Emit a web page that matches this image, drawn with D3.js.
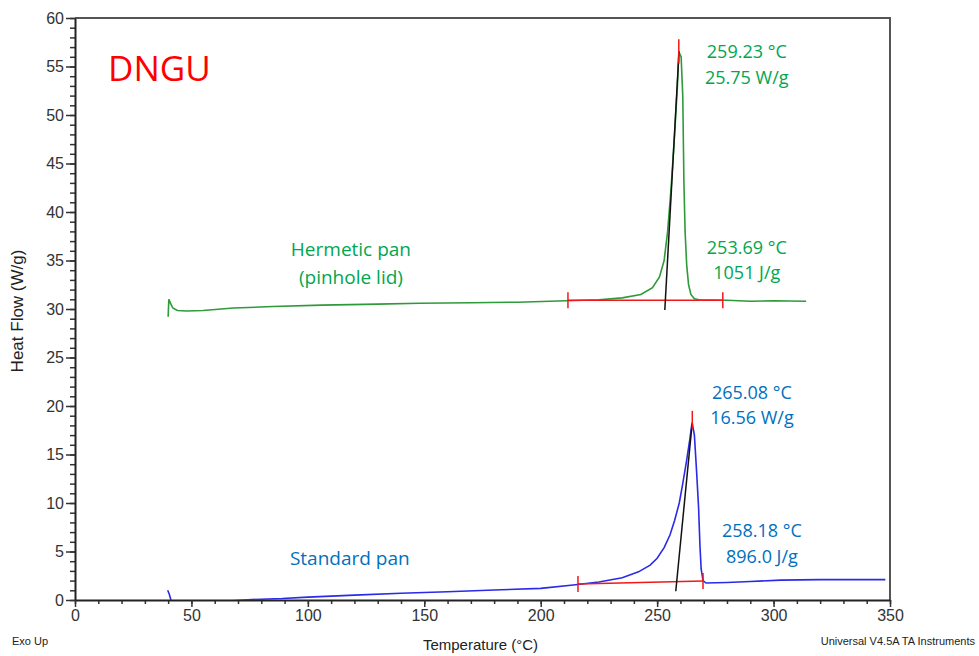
<!DOCTYPE html>
<html>
<head>
<meta charset="utf-8">
<script src="https://cdn.jsdelivr.net/npm/d3@7"></script>
<style>
  body { margin: 0; background: #fff; }
  svg { display: block; }
  .tick text { font-family: "Liberation Sans", Arial, sans-serif; font-size: 16px; fill: #333; }
</style>
</head>
<body>
<div id="chart"></div>
<script>
// canvas size
const width = 979;
const height = 656;
const margin = { top: 18, right: 89, bottom: 56, left: 75 };

// Hermetic pan (pinhole lid) - temperature (°C) and heat flow (W/g)
const hermeticTemp = [40, 40.3, 41, 42, 44, 48, 55, 68, 85, 106, 130, 148, 170, 190, 211, 225, 235, 243, 248, 251, 253, 254.5, 256, 257.5, 258.7, 259.3, 260.3, 261, 261.5, 262, 262.7, 263.5, 264.5, 266, 268, 280, 290, 300, 314];
const hermeticFlow = [29.2, 31.0, 30.6, 30.1, 29.85, 29.8, 29.85, 30.1, 30.25, 30.4, 30.5, 30.6, 30.65, 30.7, 30.85, 30.95, 31.15, 31.5, 32.2, 33.3, 35.0, 38.0, 42.5, 48.0, 53.0, 56.5, 56.0, 52.0, 43.0, 38.0, 34.5, 32.5, 31.5, 31.05, 30.95, 30.9, 30.8, 30.85, 30.8];

// Standard pan - temperature (°C) and heat flow (W/g)
const standardTemp = [39.8, 40.5, 41.2, 42, 60, 76, 89, 100, 120, 140, 160, 183, 200, 214, 225, 235, 242, 247, 250, 253, 255.5, 257.5, 259.5, 261, 262.6, 264, 265, 266, 267, 267.8, 268.4, 268.9, 269.7, 271, 280, 290, 303, 320, 348];
const standardFlow = [1.0, 0.6, 0.0, -0.3, -0.2, 0.05, 0.15, 0.3, 0.5, 0.7, 0.85, 1.05, 1.2, 1.55, 1.85, 2.3, 2.9, 3.6, 4.3, 5.4, 6.7, 8.2, 10.0, 12.0, 14.3, 16.5, 18.3, 17.0, 13.0, 9.5, 5.5, 3.2, 2.0, 1.75, 1.8, 1.9, 2.05, 2.1, 2.1];

// analysis marks: integration baselines, onset tangents, peak markers
const baselines = [
  { x1: 211.7, y1: 30.9, x2: 278.2, y2: 30.9 },
  { x1: 216, y1: 1.65, x2: 269.7, y2: 1.95 }
];
const tangents = [
  { x1: 253.3, y1: 29.9, x2: 259.4, y2: 56.6 },
  { x1: 258, y1: 0.9, x2: 265, y2: 18.1 }
];
const peaks = [
  { x: 259.3, y1: 55.3, y2: 57.8 },
  { x: 265.1, y1: 17.6, y2: 19.5 }
];

// text annotations
const hermeticLabels = ["259.23 °C", "25.75 W/g", "253.69 °C", "1051 J/g"];
const hermeticLabelY = [56.5, 53.85, 36.35, 33.7];
const standardLabels = ["265.08 °C", "16.56 W/g", "258.18 °C", "896.0 J/g"];
const standardLabelY = [21.4, 18.75, 7.15, 4.5];

const xTicks = [0, 50, 100, 150, 200, 250, 300, 350];
const yTicks = [0, 5, 10, 15, 20, 25, 30, 35, 40, 45, 50, 55, 60];

const svg = d3.select("#chart")
    .append("svg")
    .attr("width", width)
    .attr("height", height);

const x = d3.scaleLinear().domain([0, 350]).range([margin.left, width - margin.right]);
const y = d3.scaleLinear().domain([0, 60]).range([height - margin.bottom, margin.top]);

// frame (top and right)
svg.append("path")
    .attr("d", `M${x(0)},${y(60)}H${x(350)}V${y(0)}`)
    .attr("fill", "none")
    .attr("stroke", "#555")
    .attr("stroke-width", 2);

// minor ticks
svg.append("g")
    .attr("transform", `translate(0,${y(0)})`)
    .call(d3.axisBottom(x).ticks(28).tickSize(4).tickFormat(""))
    .call(g => g.select(".domain").remove())
    .selectAll("line").attr("stroke", "#333").attr("stroke-width", 1.5);
svg.append("g")
    .attr("transform", `translate(${x(0)},0)`)
    .call(d3.axisLeft(y).ticks(60).tickSize(5).tickFormat(""))
    .call(g => g.select(".domain").remove())
    .selectAll("line").attr("stroke", "#333").attr("stroke-width", 1.5);

// major axes
const xAxis = svg.append("g")
    .attr("transform", `translate(0,${y(0)})`)
    .call(d3.axisBottom(x).tickValues(xTicks).tickSize(7).tickSizeOuter(0).tickPadding(3));
const yAxis = svg.append("g")
    .attr("transform", `translate(${x(0)},0)`)
    .call(d3.axisLeft(y).tickValues(yTicks).tickSize(9).tickSizeOuter(0).tickPadding(2));
[xAxis, yAxis].forEach(a => {
    a.select(".domain").attr("stroke", "#222").attr("stroke-width", 2);
    a.selectAll(".tick line").attr("stroke", "#333").attr("stroke-width", 1.5);
});

// clip for curves
svg.append("clipPath").attr("id", "plot")
    .append("rect")
    .attr("x", x(0)).attr("y", y(60))
    .attr("width", x(350) - x(0)).attr("height", y(0) - y(60));

const line = d3.line().x(d => x(d[0])).y(d => y(d[1]));
const plot = svg.append("g").attr("clip-path", "url(#plot)");

plot.append("path")
    .datum(d3.zip(hermeticTemp, hermeticFlow))
    .attr("d", line)
    .attr("fill", "none")
    .attr("stroke", "#2e9a3a")
    .attr("stroke-width", 1.6);

plot.append("path")
    .datum(d3.zip(standardTemp, standardFlow))
    .attr("d", line)
    .attr("fill", "none")
    .attr("stroke", "#2a2ae8")
    .attr("stroke-width", 1.6);

// integration baselines with end ticks
baselines.forEach(b => {
    plot.append("line")
        .attr("x1", x(b.x1)).attr("y1", y(b.y1))
        .attr("x2", x(b.x2)).attr("y2", y(b.y2))
        .attr("stroke", "#f01818").attr("stroke-width", 1.5);
    [[b.x1, b.y1], [b.x2, b.y2]].forEach(p => {
        plot.append("line")
            .attr("x1", x(p[0])).attr("x2", x(p[0]))
            .attr("y1", y(p[1]) - 8).attr("y2", y(p[1]) + 8)
            .attr("stroke", "#f01818").attr("stroke-width", 1.5);
    });
});

// onset tangents
tangents.forEach(t => {
    plot.append("line")
        .attr("x1", x(t.x1)).attr("y1", y(t.y1))
        .attr("x2", x(t.x2)).attr("y2", y(t.y2))
        .attr("stroke", "#111").attr("stroke-width", 1.5);
});

// peak markers
peaks.forEach(p => {
    plot.append("line")
        .attr("x1", x(p.x)).attr("x2", x(p.x))
        .attr("y1", y(p.y1)).attr("y2", y(p.y2))
        .attr("stroke", "#f01818").attr("stroke-width", 1.5);
});

// annotation text
const annoFont = "'Open Sans', 'Noto Sans', sans-serif";
const annoSize = 18;
hermeticLabels.forEach((t, i) => {
    svg.append("text")
        .attr("x", x(288.5)).attr("y", y(hermeticLabelY[i]))
        .attr("dy", "0.35em")
        .attr("text-anchor", "middle")
        .attr("font-family", annoFont).attr("font-size", annoSize)
        .attr("fill", "#00a650")
        .text(t);
});
standardLabels.forEach((t, i) => {
    svg.append("text")
        .attr("x", x(i < 2 ? 290.7 : 295)).attr("y", y(standardLabelY[i]))
        .attr("dy", "0.35em")
        .attr("text-anchor", "middle")
        .attr("font-family", annoFont).attr("font-size", annoSize)
        .attr("fill", "#0070c0")
        .text(t);
});

svg.append("text")
    .attr("x", x(118.5)).attr("y", y(36.2)).attr("dy", "0.35em")
    .attr("text-anchor", "middle")
    .attr("font-family", annoFont).attr("font-size", 19)
    .attr("fill", "#00a650")
    .text("Hermetic pan");
svg.append("text")
    .attr("x", x(118.5)).attr("y", y(33.3)).attr("dy", "0.35em")
    .attr("text-anchor", "middle")
    .attr("font-family", annoFont).attr("font-size", 19)
    .attr("fill", "#00a650")
    .text("(pinhole lid)");
svg.append("text")
    .attr("x", x(118)).attr("y", y(4.3)).attr("dy", "0.35em")
    .attr("text-anchor", "middle")
    .attr("font-family", annoFont).attr("font-size", 19)
    .attr("fill", "#0070c0")
    .text("Standard pan");

svg.append("text")
    .attr("x", x(14.2)).attr("y", y(54.8)).attr("dy", "0.35em")
    .attr("font-family", annoFont).attr("font-size", 35)
    .attr("fill", "#ff0000")
    .text("DNGU");

// axis titles and footer
const sysFont = "'Liberation Sans', Arial, sans-serif";
svg.append("text")
    .attr("transform", `translate(23,311) rotate(-90)`)
    .attr("text-anchor", "middle")
    .attr("font-family", sysFont).attr("font-size", 17)
    .attr("fill", "#222")
    .text("Heat Flow (W/g)");
svg.append("text")
    .attr("x", (x(0) + x(350)) / 2 - 2).attr("y", 650)
    .attr("text-anchor", "middle")
    .attr("font-family", sysFont).attr("font-size", 15)
    .attr("fill", "#222")
    .text("Temperature (°C)");
svg.append("text")
    .attr("x", 12).attr("y", 645)
    .attr("font-family", sysFont).attr("font-size", 11)
    .attr("fill", "#222")
    .text("Exo Up");
svg.append("text")
    .attr("x", 975).attr("y", 645)
    .attr("text-anchor", "end")
    .attr("font-family", sysFont).attr("font-size", 11)
    .attr("fill", "#222")
    .text("Universal V4.5A TA Instruments");
</script>
</body>
</html>
